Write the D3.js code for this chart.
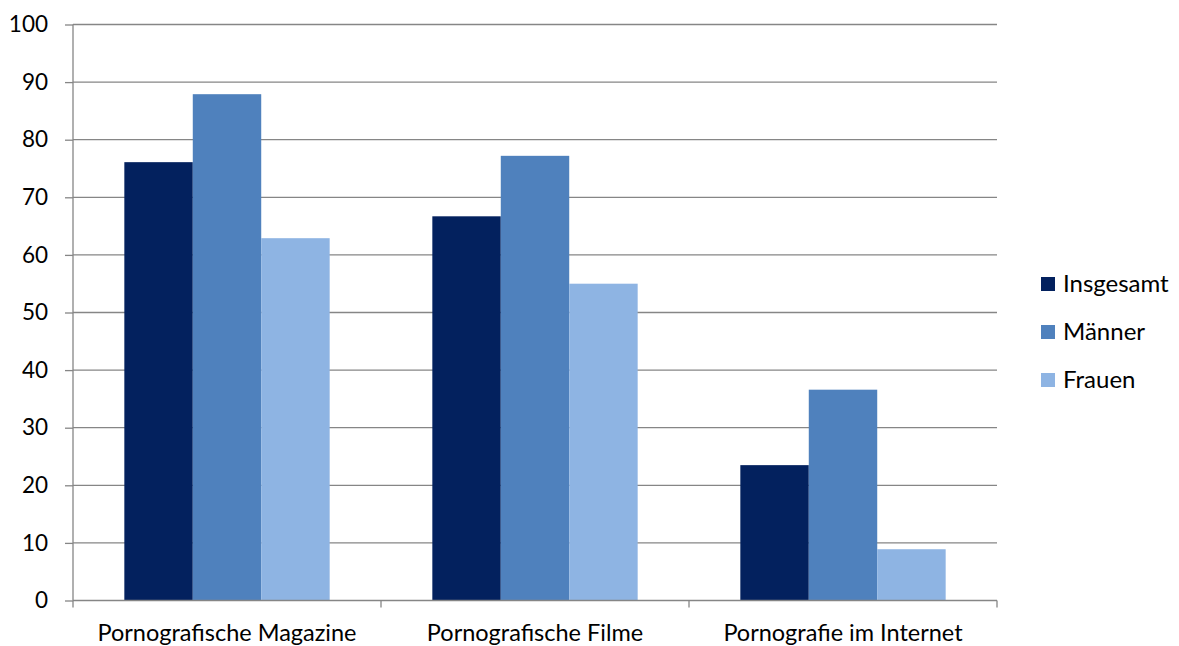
<!DOCTYPE html>
<html><head><meta charset="utf-8">
<script src="https://cdn.jsdelivr.net/npm/d3@7"></script>
<style>body{margin:0;background:#fff}svg{display:block}text{font-family:Lato,"Open Sans",sans-serif;fill:#000}</style>
</head><body><svg id="c" width="1179" height="646"></svg>
<script>
const categories = ["Pornografische Magazine","Pornografische Filme","Pornografie im Internet"];
const seriesNames = ["Insgesamt","Männer","Frauen"];
const insgesamt = [76.1, 66.7, 23.5];
const maenner = [87.9, 77.2, 36.6];
const frauen = [62.9, 55.0, 8.9];
const yTicks = [0,10,20,30,40,50,60,70,80,90,100];
const colors = ["#03215E","#4F81BD","#8EB4E3"];

const values = [insgesamt, maenner, frauen];
const svg = d3.select("#c");
const L = 73, R = 997, T = 24.5, B = 600.5;
const x = d3.scaleBand().domain(categories).range([L,R]).paddingInner(0).paddingOuter(0);
const y = d3.scaleLinear().domain([0,100]).range([B,T]);
const bw = x.bandwidth()/4.5;

// grid
svg.append("g").selectAll("line").data(yTicks.filter(d=>d>0)).join("line")
  .attr("x1",L).attr("x2",R).attr("y1",d=>y(d)).attr("y2",d=>y(d))
  .attr("stroke","#868686").attr("stroke-width",1.3);

// bars
categories.forEach((c,ci)=>{
  seriesNames.forEach((s,si)=>{
    const v = values[si][ci];
    svg.append("rect").attr("x",x(c)+0.75*bw+si*bw).attr("width",bw)
      .attr("y",y(v)).attr("height",y(0)-y(v)).attr("fill",colors[si]);
  });
});

// y axis
const ya = svg.append("g").attr("transform",`translate(${L},0)`)
  .call(d3.axisLeft(y).tickValues(yTicks).tickSize(8).tickPadding(17).tickFormat(d3.format("d")));
ya.select(".domain").attr("stroke","#868686").attr("stroke-width",1.3).attr("d",`M0,${T}V${B}`);
ya.selectAll(".tick line").attr("stroke","#868686").attr("stroke-width",1.3);
ya.selectAll(".tick text").attr("font-size",22.5).attr("font-family","Lato,sans-serif").attr("fill","#000");

// x axis
const xa = svg.append("g").attr("transform",`translate(0,${B})`)
  .call(d3.axisBottom(x).tickSize(0).tickPadding(0));
xa.select(".domain").attr("stroke","#868686").attr("stroke-width",1.3).attr("d",`M${L},0H${R}`);
xa.selectAll(".tick text").attr("font-size",23.5).attr("font-family","Lato,sans-serif").attr("fill","#000")
  .attr("y",40).attr("dy",null);
const bounds = [L].concat(categories.map(c=>x(c)+x.bandwidth()));
svg.append("g").selectAll("line").data(bounds).join("line")
  .attr("x1",d=>d).attr("x2",d=>d).attr("y1",B).attr("y2",B+7)
  .attr("stroke","#868686").attr("stroke-width",1.3);

// legend
const lg = svg.append("g").attr("transform","translate(1041,0)");
seriesNames.forEach((s,i)=>{
  const cy = 284 + i*48;
  lg.append("rect").attr("x",0).attr("y",cy-7).attr("width",14).attr("height",14).attr("fill",colors[i]);
  lg.append("text").attr("x",22).attr("y",cy).attr("dy","0.35em").attr("font-size",24).text(s);
});
</script></body></html>
